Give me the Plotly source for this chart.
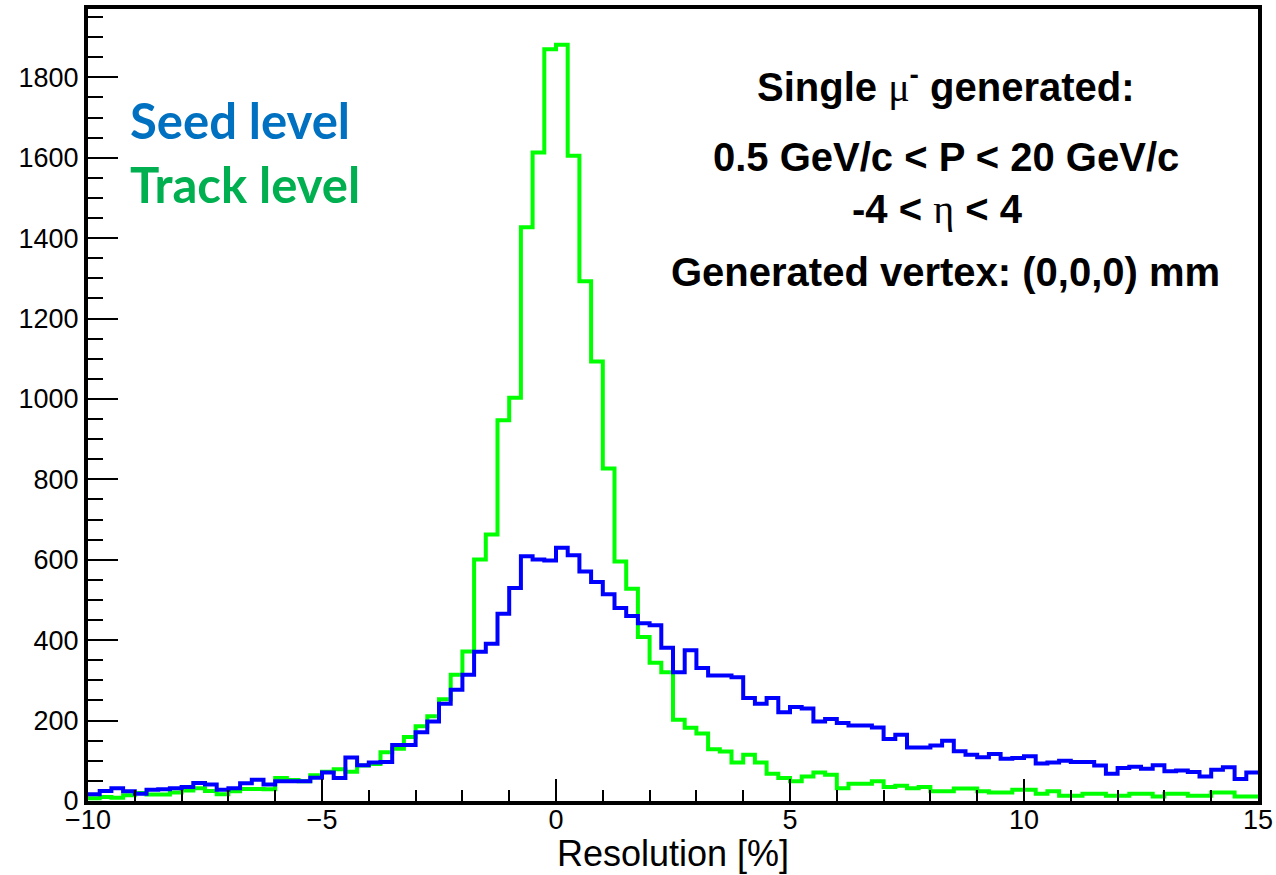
import numpy as np
import plotly.graph_objects as go

# Histogram binning (Resolution [%])
x_min = -10.0
bin_width = 0.25

# Seed level (blue) bin contents
seed_level = [17, 25, 32, 24, 18, 28, 29, 32, 35, 45,
              41, 28, 32, 44, 53, 41, 49, 49, 49, 58,
              71, 57, 108, 89, 96, 97, 139, 139, 171, 198,
              242, 277, 314, 371, 391, 466, 530, 609, 601, 598,
              630, 611, 571, 545, 514, 480, 460, 442, 437, 381,
              320, 375, 331, 312, 312, 308, 256, 242, 256, 221,
              234, 230, 198, 204, 194, 188, 188, 183, 154, 165,
              133, 133, 138, 150, 124, 115, 109, 117, 105, 107,
              111, 93, 96, 100, 97, 97, 88, 68, 82, 85,
              80, 89, 74, 76, 72, 61, 78, 84, 55, 71]

# Track level (green) bin contents
track_level = [7, 10, 8, 14, 20, 16, 16, 21, 26, 32,
               25, 17, 24, 30, 30, 29, 57, 52, 49, 64,
               73, 79, 73, 88, 92, 121, 130, 159, 186, 211,
               253, 314, 372, 601, 663, 947, 1003, 1427, 1613, 1870,
               1881, 1605, 1293, 1093, 827, 596, 528, 408, 344, 320,
               202, 182, 168, 129, 123, 96, 115, 96, 68, 57,
               49, 61, 71, 65, 32, 43, 43, 49, 35, 38,
               32, 35, 24, 24, 31, 31, 24, 21, 21, 28,
               28, 18, 24, 13, 13, 18, 18, 13, 13, 18,
               18, 11, 18, 18, 13, 13, 21, 21, 11, 11]

x_ticks = [-10, -5, 0, 5, 10, 15]
y_ticks = [0, 200, 400, 600, 800, 1000, 1200, 1400, 1600, 1800]

n_bins = len(seed_level)
edges = x_min + bin_width * np.arange(n_bins + 1)


def step(vals):
    return list(edges), list(vals) + [vals[-1]]


fig = go.Figure()
gx, gy = step(track_level)
fig.add_trace(go.Scatter(x=gx, y=gy, mode="lines", line_shape="hv",
                         line=dict(color="#00FF00", width=4), name="Track level",
                         showlegend=False))
bx, by = step(seed_level)
fig.add_trace(go.Scatter(x=bx, y=by, mode="lines", line_shape="hv",
                         line=dict(color="#0000FF", width=4), name="Seed level",
                         showlegend=False))

tick_font = dict(family="Liberation Sans, Arial, sans-serif", size=27, color="black")

fig.update_xaxes(range=[x_min, 15], tickvals=x_ticks,
                 ticktext=["\u221210", "\u22125", "0", "5", "10", "15"],
                 ticks="inside", ticklen=22, tickwidth=2, tickcolor="black",
                 minor=dict(ticks="inside", ticklen=11, tickwidth=2, tickcolor="black", dtick=1, tick0=-10),
                 showline=True, linewidth=4, linecolor="black", mirror=True,
                 showgrid=False, zeroline=False, tickfont=tick_font,
                 ticklabeloverflow="allow", automargin=False, ticklabelstandoff=-8)
fig.update_yaxes(range=[0, 1970], tickvals=y_ticks,
                 ticks="inside", ticklen=30, tickwidth=2, tickcolor="black",
                 minor=dict(ticks="inside", ticklen=15, tickwidth=2, tickcolor="black", dtick=50, tick0=0),
                 showline=True, linewidth=4, linecolor="black", mirror=True,
                 showgrid=False, zeroline=False, tickfont=tick_font,
                 ticklabeloverflow="allow", automargin=False)

bold_font = dict(family="Liberation Sans, Arial, sans-serif", size=40, color="black")
serif = "font-family:'Liberation Serif','DejaVu Serif',serif;font-weight:normal"
cx = 0.7333
annotations = [
    dict(text="<b>Single </b><span style=\"%s\">\u03bc</span><sup><b>-</b></sup><b> generated:</b>" % serif,
         x=cx, y=0.9044),
    dict(text="<b>0.5 GeV/c &lt; P &lt; 20 GeV/c</b>", x=cx, y=0.8137),
    dict(text="<b>-4 &lt; </b><span style=\"%s\">\u03b7</span><b> &lt; 4</b>" % serif, x=0.726, y=0.7472),
    dict(text="<b>Generated vertex: (0,0,0) mm</b>", x=cx, y=0.6678),
]
for a in annotations:
    fig.add_annotation(xref="paper", yref="paper", x=a["x"], y=a["y"], text=a["text"],
                       showarrow=False, xanchor="center", yanchor="middle", font=bold_font)

label_font = "Lato, 'Open Sans', sans-serif"
fig.add_annotation(xref="paper", yref="paper", x=0.0345, y=0.860, text="<b>Seed level</b>",
                   showarrow=False, xanchor="left", yanchor="middle",
                   font=dict(family=label_font, size=49, color="#0070C0"))
fig.add_annotation(xref="paper", yref="paper", x=0.0345, y=0.779, text="<b>Track level</b>",
                   showarrow=False, xanchor="left", yanchor="middle",
                   font=dict(family=label_font, size=49, color="#00B050"))

fig.add_annotation(xref="paper", yref="paper", x=0.5, y=-0.066, text="Resolution [%]",
                   showarrow=False, xanchor="center", yanchor="middle",
                   font=dict(family="Liberation Sans, Arial, sans-serif", size=36, color="black"))

fig.update_layout(width=1276, height=875, margin=dict(l=88, r=18, t=9, b=74, autoexpand=False),
                  plot_bgcolor="white", paper_bgcolor="white")

fig.write_html("out.html")
